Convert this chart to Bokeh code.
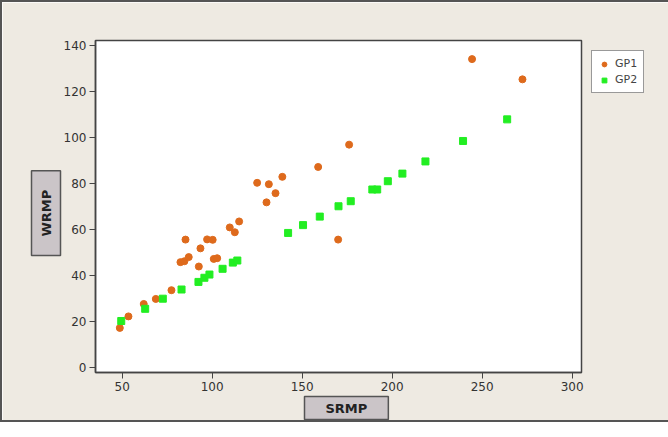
from bokeh.plotting import figure
from bokeh.models import Title, Legend, LegendItem, Range1d, FixedTicker
from bokeh.embed import file_html
from bokeh.resources import INLINE

# GP1 (orange circles)
gp1_srmp = [48.7, 53.5, 62.0, 68.7, 77.4, 82.4, 84.6, 87.0, 85.2, 92.6, 93.5, 97.2,
            100.3, 100.9, 102.8, 109.8, 112.6, 115.0, 125.0, 130.2, 131.5, 135.2,
            139.0, 158.9, 170.0, 176.1, 244.4, 272.4]
gp1_wrmp = [17.3, 22.3, 27.7, 29.9, 33.7, 45.9, 46.3, 48.1, 55.7, 44.0, 51.9, 55.8,
            55.6, 47.3, 47.6, 61.0, 58.9, 63.6, 80.4, 71.9, 79.8, 75.9,
            83.0, 87.3, 55.7, 97.0, 134.2, 125.4]

# GP2 (green squares)
gp2_srmp = [49.5, 62.8, 72.6, 83.0, 92.4, 95.7, 98.5, 105.8, 111.5, 114.0, 142.2,
            150.5, 159.8, 170.2, 177.0, 189.0, 191.7, 197.6, 205.7, 218.5, 239.4, 263.9]
gp2_wrmp = [20.3, 25.6, 30.0, 34.0, 37.3, 39.1, 40.5, 43.0, 45.7, 46.6, 58.6,
            62.0, 65.7, 70.2, 72.4, 77.5, 77.5, 81.1, 84.4, 89.7, 98.6, 108.0]

x_ticks = [50, 100, 150, 200, 250, 300]
y_ticks = [0, 20, 40, 60, 80, 100, 120, 140]

p = figure(frame_width=486, frame_height=332, output_backend="svg", toolbar_location=None,
           x_range=Range1d(35.2, 305.2), y_range=Range1d(-2.1, 142.3),
           min_border_left=93, min_border_right=69, min_border_top=38, min_border_bottom=47)
p.background_fill_color = "white"
p.border_fill_color = "#EEEAE2"
p.outline_line_color = "#444444"
p.outline_line_width = 1.5
p.xgrid.visible = False
p.ygrid.visible = False
p.styles = {"border": "2px solid #555555"}

for ax in (p.xaxis[0], p.yaxis[0]):
    ax.axis_line_color = "#444444"
    ax.axis_line_width = 1.5
    ax.major_tick_line_color = "#444444"
    ax.major_tick_out = 6
    ax.major_tick_in = 0
    ax.minor_tick_line_color = None
    ax.major_label_standoff = 3
    ax.major_label_text_font = "DejaVu Sans"
    ax.major_label_text_font_size = "12px"
    ax.major_label_text_color = "#333333"
p.xaxis[0].ticker = FixedTicker(ticks=x_ticks)
p.yaxis[0].ticker = FixedTicker(ticks=y_ticks)

r1 = p.scatter(gp1_srmp, gp1_wrmp, marker="circle", size=7,
               fill_color="#DE6A1C", line_color="#DE6A1C")
r2 = p.scatter(gp2_srmp, gp2_wrmp, marker="square", size=7,
               fill_color="#22EE22", line_color="#22EE22")

legend = Legend(items=[LegendItem(label="GP1", renderers=[r1]),
                       LegendItem(label="GP2", renderers=[r2])],
                location="top_left", glyph_width=12, glyph_height=12,
                label_text_font="DejaVu Sans", label_text_font_size="11px",
                label_standoff=5, padding=6, spacing=3, margin=10,
                border_line_color="#333333", border_line_width=1.5,
                background_fill_color="white", background_fill_alpha=1.0)
p.add_layout(legend, "right")

xlab = Title(text="SRMP", align="left", offset=209, standoff=2,
             text_font="DejaVu Sans", text_font_style="bold", text_font_size="13px",
             text_color="#222222",
             background_fill_color="#CBC5C8", border_line_color="#555555",
             border_line_width=1.5,
             padding={"left": 21, "right": 21, "top": 4, "bottom": 4})
ylab = Title(text="WRMP", align="left", offset=117, standoff=0,
             text_font="DejaVu Sans", text_font_style="bold", text_font_size="13px",
             text_color="#222222",
             background_fill_color="#CBC5C8", border_line_color="#555555",
             border_line_width=1.5,
             padding={"left": 19, "right": 19, "top": 7, "bottom": 7})
p.add_layout(xlab, "below")
p.add_layout(ylab, "left")

open("out.html", "w").write(file_html(p, INLINE))
